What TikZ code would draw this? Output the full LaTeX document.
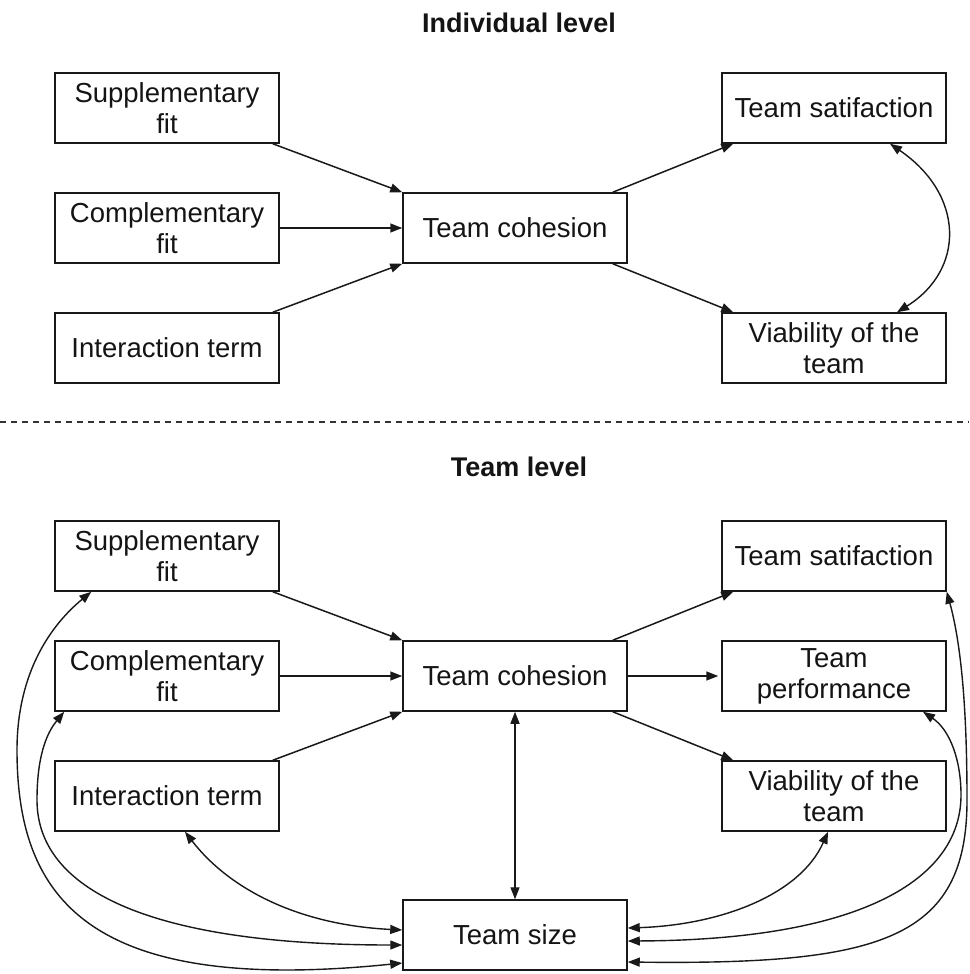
\documentclass[tikz,border=0pt]{standalone}
\usepackage{fontspec}
\setmainfont{Liberation Sans}
\usetikzlibrary{arrows.meta}
\begin{document}
\begin{tikzpicture}[x=1pt,y=-1pt,
  box/.style={draw=black!90, line width=1.5pt, minimum width=224pt, minimum height=70pt,
    inner sep=0pt, align=center, font=\fontsize{27.5}{31}\selectfont, text=black!92},
  ttl/.style={font=\fontsize{27}{31}\selectfont\bfseries, text=black!92},
  conn/.style={line width=1.5pt, draw=black!90, -{Triangle[length=12pt,width=9pt]}},
  bconn/.style={line width=1.4pt, draw=black!90, {Triangle[length=12pt,width=9pt]}-{Triangle[length=12pt,width=9pt]}},
  sep/.style={line width=1.1pt, draw=black!80, dash pattern=on 6pt off 5pt}]
\useasboundingbox (0,0) rectangle (969,974);
\fill[white] (0,0) rectangle (969,974);

% titles
\node[ttl] (t1) at (519,23) {Individual level};
\node[ttl] (t2) at (519,467) {Team level};
\coordinate (dl) at (0,422);
\coordinate (dr) at (969,422);
\draw[sep] (dl) -- (dr);

% individual level
\node[box] (s1) at (167,108) {Supplementary\\fit};
\node[box] (c1) at (167,228) {Complementary\\fit};
\node[box] (i1) at (167,348) {Interaction term};
\node[box] (tc1) at (515,228) {Team cohesion};
\node[box] (sa1) at (834,108) {Team satifaction};
\node[box] (v1) at (834,348) {Viability of the\\team};

\draw[conn] ([xshift=-7pt]s1.south east) -- (tc1.north west);
\draw[conn] (c1.east) -- (tc1.west);
\draw[conn] ([xshift=-7pt]i1.north east) -- (tc1.south west);
\draw[conn] ([xshift=-15pt]tc1.north east) -- ([xshift=12pt]sa1.south west);
\draw[conn] ([xshift=-15pt]tc1.south east) -- ([xshift=12pt]v1.north west);
\draw[bconn] ([xshift=56pt]sa1.south) .. controls (965,195) and (965,270) .. ([xshift=63pt]v1.north);

% team level
\node[box] (s2) at (167,556) {Supplementary\\fit};
\node[box] (c2) at (167,676) {Complementary\\fit};
\node[box] (i2) at (167,796) {Interaction term};
\node[box] (tc2) at (515,676) {Team cohesion};
\node[box] (sa2) at (834,556) {Team satifaction};
\node[box] (p2) at (834,676) {Team\\performance};
\node[box] (v2) at (834,796) {Viability of the\\team};
\node[box] (ts) at (515,935) {Team size};

\draw[conn] ([xshift=-7pt]s2.south east) -- (tc2.north west);
\draw[conn] (c2.east) -- (tc2.west);
\draw[conn] ([xshift=-7pt]i2.north east) -- (tc2.south west);
\draw[conn] ([xshift=-15pt]tc2.north east) -- ([xshift=12pt]sa2.south west);
\draw[conn] (tc2.east) -- ([xshift=-3pt]p2.west);
\draw[conn] ([xshift=-15pt]tc2.south east) -- ([xshift=12pt]v2.north west);
\draw[bconn] (tc2.south) -- (ts.north);

\draw[bconn] ([xshift=18pt]i2.south) .. controls (230,890) and (300,925) .. ([yshift=5pt]ts.west);
\draw[bconn] ([xshift=10pt]c2.south west) .. controls (45,735) and (37,760) .. (37,800)
   .. controls (37,890) and (150,945) .. ([yshift=-10pt]ts.west);
\draw[bconn] ([xshift=37pt]s2.south west) .. controls (45,630) and (17,680) .. (17,750)
   .. controls (17,900) and (90,995) .. ([yshift=-28pt]ts.west);

\draw[bconn] ([xshift=-6pt]v2.south) .. controls (800,895) and (720,925) .. ([yshift=7pt]ts.east);
\draw[bconn] ([xshift=89pt]p2.south) .. controls (950,730) and (961,760) .. (961,795)
   .. controls (961,880) and (860,940) .. ([yshift=-6pt]ts.east);
\draw[bconn] (sa2.south east) .. controls (960,640) and (967,700) .. (967,800)
   .. controls (967,940) and (880,965) .. ([yshift=-27pt]ts.east);
\end{tikzpicture}
\end{document}
